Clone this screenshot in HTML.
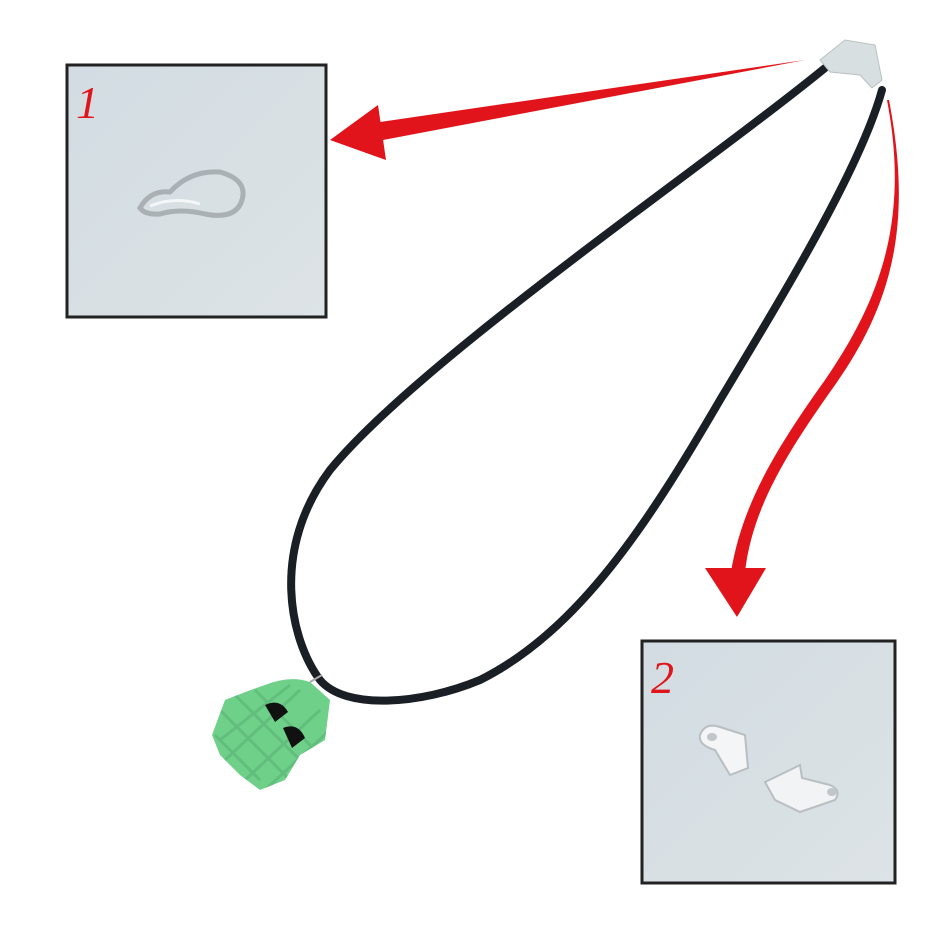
<!DOCTYPE html>
<html><head><style>body{margin:0;background:#fff}svg{display:block}</style></head><body>
<svg width="940" height="940" viewBox="0 0 940 940" xmlns="http://www.w3.org/2000/svg">
<defs>
<linearGradient id="bg" x1="0" y1="0" x2="1" y2="1"><stop offset="0" stop-color="#d2dce2"/><stop offset="1" stop-color="#dde3e6"/></linearGradient>
<clipPath id="pc"><path d="M225 700 Q250 690 265 685 Q290 675 310 682 L330 700 L325 740 L300 755 L285 780 L260 790 L240 775 L220 755 L212 735 Z"/></clipPath>
</defs>
<rect width="940" height="940" fill="#fff"/>
<!-- box 1 -->
<rect x="67" y="65" width="259" height="252" fill="url(#bg)" stroke="#222" stroke-width="3"/>
<text x="76" y="118" font-family="Liberation Serif, serif" font-style="italic" font-size="46" fill="#e0141a">1</text>
<g fill="none" stroke="#aab0b3" stroke-width="5">
<path d="M140 208 Q150 190 170 192 Q190 170 220 172 Q248 180 242 200 Q236 220 205 214 Q180 208 160 214 Q145 215 140 208Z"/>
</g>
<path d="M150 206 Q175 196 200 204" stroke="#f4f6f7" stroke-width="3" fill="none"/>
<!-- box 2 -->
<rect x="642" y="641" width="253" height="242" fill="url(#bg)" stroke="#222" stroke-width="3"/>
<text x="651" y="693" font-family="Liberation Serif, serif" font-style="italic" font-size="46" fill="#e0141a">2</text>
<path d="M700 735 Q705 722 720 727 L745 735 L748 768 L730 775 L715 750 Q698 745 700 735Z" fill="#f3f5f6" stroke="#b8bec1" stroke-width="2"/>
<ellipse cx="712" cy="737" rx="5" ry="4" fill="#c0c6c9"/>
<path d="M765 782 L790 770 L800 765 L802 778 L830 785 Q842 790 835 800 L800 812 L775 800 Z" fill="#f1f3f4" stroke="#b8bec1" stroke-width="2"/>
<ellipse cx="832" cy="792" rx="5" ry="4" fill="#c0c6c9"/>
<!-- red arrow 1 -->
<path d="M805 60 L380 122 L383 140 Z" fill="#e0141a"/>
<path d="M330 140 L378 105 L386 160 Z" fill="#e0141a"/>
<!-- red arrow 2 -->
<path d="M887 100 C910 220 880 300 825 380 C775 450 742 505 731 572 L745 572 C752 510 785 455 835 385 C895 300 912 220 889 100 Z" fill="#e0141a"/>
<path d="M705 568 L766 568 L737 617 Z" fill="#e0141a"/>
<!-- cord -->
<path d="M825 68 C700 170 420 360 330 470 C270 550 290 640 320 680 C345 710 420 705 480 680 C580 630 650 520 720 400 C780 300 860 170 882 90" fill="none" stroke="#1a1f26" stroke-width="8" stroke-linecap="round"/>
<!-- clasp -->
<path d="M820 60 L845 40 L875 45 L882 80 L872 88 L860 75 L830 72 Z" fill="#d8dfe0" stroke="#b9c1c2" stroke-width="1"/>
<!-- pendant -->
<g>
<path d="M225 700 Q250 690 265 685 Q290 675 310 682 L330 700 L325 740 L300 755 L285 780 L260 790 L240 775 L220 755 L212 735 Z" fill="#6fd08a"/>
<g stroke="#5cb777" stroke-width="3" opacity="0.7" clip-path="url(#pc)">
<path d="M220 710 L300 790 M235 695 L320 780 M255 690 L330 765 M215 735 L260 780 M225 760 L300 690 M220 740 L290 685 M245 780 L320 710 M265 790 L330 730"/>
</g>
<path d="M265 705 Q280 698 288 712 L275 722 Z" fill="#111"/>
<path d="M283 728 Q298 722 305 738 L292 748 Z" fill="#111"/>
<path d="M310 682 L322 675" stroke="#aaa" stroke-width="2"/>
</g>
</svg>
</body></html>
